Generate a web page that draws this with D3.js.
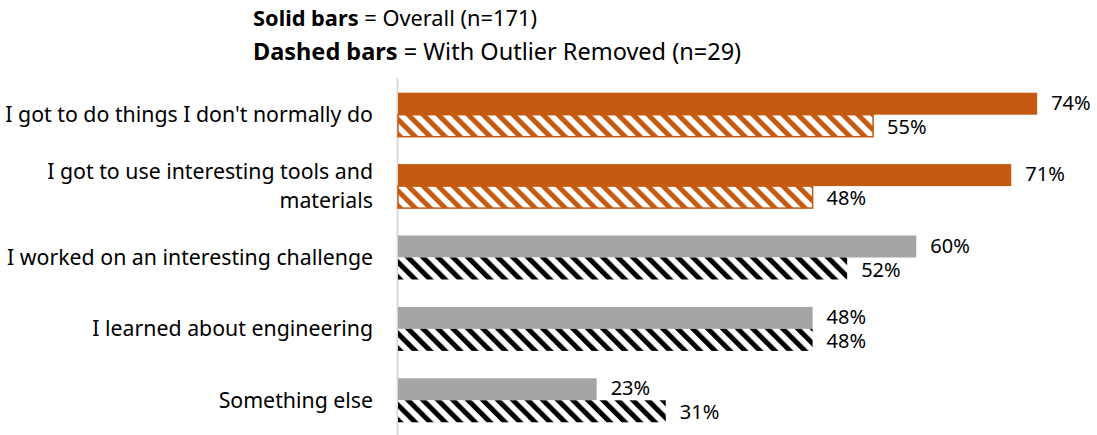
<!DOCTYPE html>
<html>
<head>
<meta charset="utf-8">
<script src="https://cdn.jsdelivr.net/npm/d3@7"></script>
<style>
  body { margin: 0; background: #fff; }
  text { font-family: "Noto Sans", "Open Sans", sans-serif; fill: #000; }
</style>
</head>
<body>
<svg width="1097" height="435"></svg>
<script>
var svg = d3.select("svg"),
    width = +svg.attr("width"),
    height = +svg.attr("height");

// data
var categories = [
    "I got to do things I don't normally do",
    "I got to use interesting tools and materials",
    "I worked on an interesting challenge",
    "I learned about engineering",
    "Something else"
];
var labelLines = [
    ["I got to do things I don't normally do"],
    ["I got to use interesting tools and", "materials"],
    ["I worked on an interesting challenge"],
    ["I learned about engineering"],
    ["Something else"]
];
var overall = [74, 71, 60, 48, 23];
var outlierRemoved = [55, 48, 52, 48, 31];
var highlighted = [true, true, false, false, false];
var legendItems = [
    ["Solid bars", " = Overall (n=171)"],
    ["Dashed bars", " = With Outlier Removed (n=29)"]
];

var orange = "#C55A11",
    gray = "#A5A5A5";

var x = d3.scaleLinear().domain([0, 80]).range([398, 1089]);
var y = d3.scaleBand().domain(categories).range([79, 436]);
var barH = 22;

// hatch patterns
var defs = svg.append("defs");
function hatch (id, col) {
    var p = defs.append("pattern")
        .attr("id", id)
        .attr("patternUnits", "userSpaceOnUse")
        .attr("width", 10.6)
        .attr("height", 10.6)
        .attr("patternTransform", "rotate(-45)");
    p.append("rect").attr("width", 10.6).attr("height", 10.6).attr("fill", "#fff");
    p.append("rect").attr("width", 5).attr("height", 10.6).attr("fill", col);
}
hatch("hatchOrange", orange);
hatch("hatchBlack", "#000");

// legend (second line is set a bit larger in the original)
var legendSizes = [21.8, 23.5];
legendItems.forEach((l, i) => {
    let t = svg.append("text")
        .attr("x", 253)
        .attr("y", 18 + i * 34)
        .attr("dy", "0.35em")
        .style("font-size", legendSizes[i] + "px");
    t.append("tspan").style("font-weight", "bold").text(l[0]);
    t.append("tspan").text(l[1]);
});

// axis line
svg.append("line")
    .attr("x1", x(0) - 0.5).attr("x2", x(0) - 0.5)
    .attr("y1", 78).attr("y2", height)
    .attr("stroke", "#D9D9D9")
    .attr("stroke-width", 2);

var groups = svg.selectAll(".grp")
    .data(categories)
    .enter().append("g")
    .attr("class", "grp")
    .attr("transform", (d) => `translate(0,${y(d) + y.bandwidth() / 2})`);

// category labels
groups.each(function (d, i) {
    let lines = labelLines[i];
    let g = d3.select(this);
    lines.forEach((ln, j) => {
        g.append("text")
            .attr("x", 373)
            .attr("y", (j - (lines.length - 1) / 2) * 29)
            .attr("dy", "0.35em")
            .attr("text-anchor", "end")
            .style("font-size", "21.3px")
            .text(ln);
    });
});

// solid bars
groups.append("rect")
    .attr("x", x(0))
    .attr("y", -barH)
    .attr("width", (d, i) => x(overall[i]) - x(0))
    .attr("height", barH)
    .attr("fill", (d, i) => highlighted[i] ? orange : gray);

// hatched bars
groups.append("rect")
    .attr("x", x(0))
    .attr("y", 0)
    .attr("width", (d, i) => x(outlierRemoved[i]) - x(0))
    .attr("height", barH)
    .attr("fill", (d, i) => highlighted[i] ? "url(#hatchOrange)" : "url(#hatchBlack)")
    .attr("stroke", (d, i) => highlighted[i] ? orange : "none")
    .attr("stroke-width", 1.5);

// value labels
groups.append("text")
    .attr("x", (d, i) => x(overall[i]) + 14)
    .attr("y", -barH / 2 - 1)
    .attr("dy", "0.35em")
    .style("font-size", "20px")
    .text((d, i) => overall[i] + "%");

groups.append("text")
    .attr("x", (d, i) => x(outlierRemoved[i]) + 14)
    .attr("y", barH / 2 + 1)
    .attr("dy", "0.35em")
    .style("font-size", "20px")
    .text((d, i) => outlierRemoved[i] + "%");
</script>
</body>
</html>
